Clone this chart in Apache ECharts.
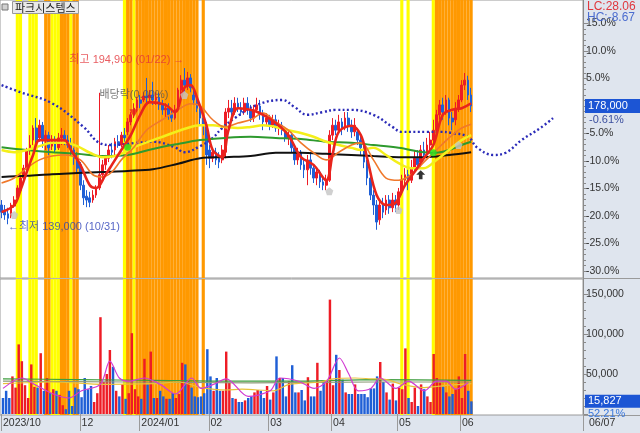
<!DOCTYPE html>
<html><head><meta charset="utf-8">
<script src="https://cdn.jsdelivr.net/npm/echarts/dist/echarts.min.js"></script>
<style>html,body{margin:0;padding:0;background:#fff}#c{width:640px;height:433px}</style>
</head><body><div id="c"></div>
<script>
// ---------- DATA ----------
const stockName = '파크시스템스';
const SLOTS = 185; // trading-day slots on the x axis (data + forward space)
const tickIndex = [0, 25, 44, 66, 85, 105, 126, 146];
const tickLabels = ['2023/10', '12', '2024/01', '02', '03', '04', '05', '06'];
const lastDateLabel = '06/07';

// candles: [open, close, low, high] in % relative to last price (178,000)
const candles = [
[-18.0,-19.3,-20.4,-17.1],[-18.9,-19.8,-20.7,-18.0],[-19.6,-20.4,-21.5,-18.5],[-20.0,-18.0,-20.4,-17.6],[-18.2,-17.1,-18.5,-16.4],[-16.7,-14.9,-17.1,-14.4],[-15.3,-13.1,-15.6,-12.5],[-13.1,-11.3,-13.8,-10.7],[-11.3,-8.0,-11.6,-7.6],[-8.0,-7.1,-8.9,-5.3],
[-6.2,-4.0,-7.1,-3.5],[-4.0,-6.2,-7.1,-2.2],[-5.8,-3.5,-6.5,-2.5],[-3.5,-6.2,-7.6,-2.9],[-6.2,-5.3,-8.0,-4.4],[-5.3,-7.6,-8.9,-4.7],[-7.3,-6.2,-8.0,-5.3],[-6.2,-8.0,-8.4,-5.5],[-7.6,-5.8,-8.0,-4.9],[-5.8,-5.3,-7.1,-4.0],
[-5.3,-6.2,-7.1,-4.4],[-6.2,-7.1,-7.6,-5.3],[-7.1,-8.0,-8.9,-5.8],[-8.0,-9.5,-10.7,-7.6],[-9.5,-11.3,-12.0,-8.4],[-10.7,-14.4,-15.3,-10.2],[-14.4,-16.7,-18.0,-13.5],[-16.4,-17.1,-18.4,-15.3],[-16.7,-17.5,-18.4,-15.6],[-17.1,-16.2,-17.6,-15.3],
[-16.2,-14.9,-16.7,-14.4],[-14.9,-12.5,-15.3,2.4],[-12.5,-10.7,-13.5,-9.8],[-10.7,-9.5,-11.6,-8.9],[-9.5,-8.0,-10.2,-7.1],[-8.0,-8.4,-9.5,-6.7],[-8.0,-6.5,-8.9,-5.8],[-6.5,-7.1,-7.6,-5.3],[-7.1,-5.3,-7.5,-4.7],[-5.3,-5.8,-6.5,-4.0],
[-4.7,-2.9,-5.3,-2.2],[-2.9,-1.6,-3.5,-1.1],[-1.6,-0.4,-2.2,0.5],[-0.4,1.1,-1.1,1.6],[1.1,0.5,-0.4,2.0],[1.1,1.8,0.7,2.5],[1.8,1.5,0.4,5.1],[1.5,2.0,0.7,2.9],[2.0,1.1,0.2,4.4],[1.1,1.6,0.2,2.5],
[1.6,0.2,-0.7,2.4],[0.2,-0.7,-1.6,1.1],[-0.7,-0.4,-2.2,0.5],[-0.4,-1.6,-2.5,0.5],[-1.6,-2.2,-2.9,-0.7],[-2.2,-0.7,-2.5,0.2],[-0.7,2.9,-1.1,3.3],[2.9,4.7,2.0,5.6],[4.7,3.8,2.5,6.9],[3.8,5.1,2.9,6.2],
[5.1,3.3,2.5,5.8],[2.0,1.1,0.2,2.9],[1.1,-0.4,-1.1,2.0],[-0.4,-2.2,-3.5,0.2],[-2.2,-3.5,-5.3,-1.6],[-3.5,-8.9,-10.7,-2.9],[-8.0,-9.5,-11.3,-7.1],[-9.5,-8.4,-10.2,-7.6],[-8.4,-9.8,-10.7,-7.6],[-9.5,-10.2,-11.3,-8.4],
[-9.8,-8.0,-10.4,-7.1],[-8.4,-1.1,-9.5,-0.4],[-1.1,-0.4,-2.2,1.1],[-0.4,-1.1,-2.2,1.1],[-1.1,0.5,-1.6,1.6],[0.5,-0.4,-1.1,1.5],[-0.4,-1.1,-1.8,0.7],[-1.1,0.5,-1.6,1.5],[0.5,-0.7,-1.6,1.6],[-0.7,-2.2,-2.9,0.2],
[-2.2,-0.7,-2.9,0.2],[-0.7,0.2,-1.1,1.5],[0.0,-1.6,-2.5,1.1],[-1.6,-2.9,-4.4,-0.7],[-2.9,-2.2,-3.6,-1.3],[-2.2,-3.5,-4.4,-1.6],[-3.5,-2.5,-4.0,-1.6],[-2.5,-4.0,-4.7,-1.6],[-4.0,-3.5,-5.3,-2.5],[-3.5,-4.4,-5.3,-2.9],
[-4.4,-5.8,-6.5,-3.8],[-5.8,-5.3,-7.1,-4.4],[-5.3,-7.6,-8.4,-4.7],[-7.6,-9.8,-10.7,-7.1],[-9.8,-8.4,-10.7,-7.6],[-8.4,-10.7,-11.6,-8.0],[-10.7,-11.6,-13.1,-9.8],[-11.6,-9.8,-14.4,-8.9],[-9.8,-11.3,-12.5,-8.4],[-11.3,-13.1,-14.0,-10.7],
[-13.1,-12.0,-14.4,-11.3],[-12.0,-13.8,-14.9,-11.6],[-13.8,-14.4,-15.3,-13.1],[-14.4,-13.5,-15.3,-12.5],[-13.5,-5.3,-13.8,-4.4],[-5.3,-3.5,-6.2,-2.2],[-3.5,-4.4,-5.3,-2.5],[-4.4,-2.9,-4.7,-1.6],[-2.9,-4.0,-5.3,-2.2],[-4.0,-2.2,-4.4,-1.1],
[-2.2,-3.5,-4.7,-1.1],[-3.5,-4.7,-5.8,-2.5],[-4.7,-3.5,-5.5,-2.2],[-4.7,-6.2,-7.1,-4.0],[-6.2,-7.6,-8.9,-5.3],[-7.6,-10.2,-11.3,-7.1],[-10.2,-13.1,-14.4,-9.8],[-13.1,-16.2,-17.1,-12.5],[-16.2,-18.0,-19.8,-15.3],[-18.0,-21.1,-22.5,-17.1],
[-20.7,-18.0,-21.6,-17.1],[-18.0,-19.3,-20.4,-16.7],[-18.9,-17.1,-19.8,-16.2],[-17.1,-18.5,-19.6,-16.2],[-18.5,-17.1,-19.3,-15.8],[-17.1,-18.0,-19.3,-16.2],[-18.0,-15.6,-18.9,-14.9],[-15.6,-13.5,-16.2,-12.5],[-13.5,-12.5,-14.4,-11.3],[-12.5,-13.8,-15.3,-11.6],
[-13.5,-11.3,-14.0,-9.8],[-11.3,-9.5,-12.0,-8.0],[-9.5,-10.7,-11.6,-8.0],[-10.2,-8.0,-11.3,-7.1],[-8.0,-8.9,-9.8,-6.5],[-8.4,-7.1,-9.5,-5.8],[-7.1,-6.2,-8.0,-4.7],[-6.2,-4.4,-7.1,-2.5],[-4.4,-1.6,-5.3,-0.7],[-1.6,0.2,-2.5,1.1],
[0.2,-1.1,-2.5,1.5],[-1.1,1.1,-1.6,2.0],[1.1,-2.2,-3.5,1.5],[-2.2,-2.9,-4.4,-1.1],[-2.5,-0.4,-3.5,0.7],[-0.4,1.1,-1.1,2.0],[1.1,3.8,0.7,4.7],[3.8,4.7,2.9,6.0],[4.7,2.0,1.1,5.5],[2.0,0.0,-1.1,3.3]
];

const volumes = [
20000,29000,20000,47000,33000,87000,66000,36000,20000,62000,
34000,33000,76000,29000,45000,26000,31000,29000,24000,11000,
6000,29000,10000,33000,31000,21000,45000,31000,35000,15000,
26000,121000,40000,50000,80000,59000,29000,22000,37000,19000,
26000,101000,31000,22000,19000,69000,37000,78000,20000,20000,
29000,22000,19000,19000,26000,20000,25000,64000,62000,41000,
33000,22000,21000,22000,26000,81000,47000,29000,45000,29000,
29000,78000,39000,20000,19000,15000,15000,17000,20000,22000,
27000,30000,29000,20000,35000,18000,27000,72000,45000,45000,
22000,41000,61000,27000,27000,30000,17000,46000,22000,22000,
64000,29000,41000,42000,143000,36000,74000,55000,43000,27000,
25000,25000,37000,25000,25000,25000,21000,32000,32000,47000,
65000,40000,27000,18000,38000,17000,33000,31000,82000,20000,
15000,33000,10000,37000,31000,22000,15000,75000,45000,39000,
34000,27000,22000,25000,31000,47000,20000,75000,29000,15827
];

// moving averages / indicator lines, read at sample days: [dayIndex, %]
const ma5 = [[0,-19.3],[4,-18.0],[6,-15.3],[8,-12.0],[10,-8.9],[12,-6.2],[16,-6.2],[20,-6.2],[22,-8.0],[25,-10.7],[28,-14.4],[30,-14.9],[33,-12.5],[35,-10.7],[38,-8.0],[41,-5.3],[44,-1.6],[47,0.7],[52,0.2],[55,-1.1],[58,3.3],[60,3.8],[62,1.5],[65,-3.5],[67,-8.0],[70,-9.3],[72,-4.4],[75,-0.4],[79,-0.7],[83,-1.6],[87,-3.1],[91,-5.3],[95,-9.3],[99,-10.7],[103,-13.5],[105,-8.9],[107,-4.7],[111,-3.6],[114,-5.3],[116,-9.5],[119,-16.2],[122,-18.0],[125,-17.6],[128,-14.4],[131,-12.0],[134,-9.5],[137,-7.1],[140,-1.6],[143,-0.7],[146,-0.4],[149,0.5]];
const ma10 = [[0,-14.0],[4,-13.1],[8,-11.3],[12,-9.8],[16,-9.1],[20,-8.9],[25,-9.8],[29,-12.5],[32,-12.9],[35,-12.0],[38,-9.8],[42,-7.5],[46,-4.4],[51,-2.5],[56,-0.7],[60,0.4],[63,0.0],[67,-2.5],[71,-3.8],[75,-3.1],[79,-2.5],[83,-1.3],[87,-2.9],[91,-4.4],[95,-6.7],[99,-8.5],[103,-9.8],[107,-8.4],[111,-7.1],[114,-6.7],[118,-9.8],[122,-13.1],[126,-13.5],[130,-12.5],[134,-10.2],[138,-8.0],[142,-5.8],[146,-4.0],[149,-3.3]];
const ma20 = [[0,-8.0],[4,-8.4],[8,-8.0],[12,-7.3],[16,-6.7],[20,-6.7],[24,-7.3],[28,-8.5],[32,-9.3],[36,-9.1],[42,-7.5],[50,-5.8],[59,-4.0],[63,-3.5],[67,-3.5],[71,-3.8],[75,-4.0],[79,-3.8],[83,-3.5],[87,-3.8],[91,-4.4],[95,-4.9],[99,-5.6],[103,-6.5],[107,-7.1],[111,-7.6],[114,-8.0],[118,-7.6],[122,-8.9],[126,-10.4],[130,-11.3],[134,-11.3],[138,-9.8],[142,-8.0],[146,-6.2],[149,-5.3]];
const ma60 = [[0,-7.5],[8,-8.0],[16,-8.4],[24,-8.7],[32,-9.1],[40,-8.9],[48,-7.8],[56,-6.9],[63,-6.2],[71,-5.8],[79,-5.6],[87,-5.8],[95,-6.0],[103,-6.5],[111,-6.7],[118,-7.1],[126,-7.6],[134,-8.4],[138,-8.5],[142,-8.0],[146,-7.1],[149,-6.5]];
const ma120 = [[0,-12.9],[8,-12.7],[16,-12.4],[24,-12.2],[32,-12.0],[40,-11.8],[48,-11.5],[56,-10.5],[63,-9.5],[71,-9.3],[79,-9.1],[87,-8.5],[95,-8.5],[103,-8.7],[111,-8.9],[118,-9.1],[126,-9.3],[134,-9.3],[142,-8.9],[149,-8.4]];
const leadSpan = [[0,3.8],[6,2.5],[16,0.5],[26,-3.8],[31,-6.7],[35,-7.1],[43,-6.7],[48,-6.5],[55,-7.5],[58,-8.4],[63,-7.3],[67,-5.8],[70,-4.0],[74,-2.2],[81,0.2],[89,1.1],[93,-0.2],[97,-1.6],[102,-1.1],[106,-0.7],[111,-0.7],[118,-1.6],[124,-3.8],[127,-4.7],[135,-4.7],[139,-4.7],[143,-4.9],[148,-5.6],[151,-7.6],[156,-8.9],[160,-8.5],[165,-6.2],[171,-4.0],[175,-2.2]];

// volume averages: [dayIndex, shares]
const volMa5 = [[0,32000],[6,45000],[10,37000],[16,25000],[21,20000],[25,29000],[31,37000],[34,66000],[37,45000],[40,41000],[45,45000],[50,37000],[55,25000],[60,45000],[63,32000],[67,37000],[71,44000],[78,22000],[85,29000],[88,45000],[94,41000],[99,32000],[103,41000],[107,70000],[110,50000],[113,29000],[117,32000],[120,45000],[125,32000],[129,41000],[134,29000],[138,41000],[141,41000],[144,31000],[148,39000]];
const volMa20 = [[0,38000],[16,40000],[32,37000],[48,38000],[56,40000],[63,33000],[71,30000],[76,31000],[86,29000],[91,37000],[101,40000],[105,44000],[112,45000],[117,44000],[122,43000],[127,37000],[134,33000],[142,36000],[149,38000]];
const volMa60 = [[0,44000],[24,43000],[48,42000],[71,41000],[95,41000],[118,43000],[149,42000]];
const volMa120 = [[0,41000],[40,40000],[79,39000],[118,40000],[149,40000]];

// signal bands (day index ranges)
const yellowDays = [[5,6],[9,11],[16,18],[22,22],[39,39],[42,42],[127,127],[129,129],[137,137]];
const orangeDays = [[14,15],[19,21],[23,24],[40,41],[43,62],[64,64],[138,149]];

// markers: [dayIndex, %]
const grayMarks = [[4,-19.8],[58,2.0],[104,-15.5],[126,-18.9],[145,-7.1]];
const greenMarks = [[40,-7.5],[137,-8.5]];
const blackArrows = [[133,-12.5]];
const exDivMark = [42,-1.3];
const highMark = [58, 6.9];
const lowMark = [2, -21.5];

const texts = {
  high: '최고 194,900 (01/22) →',
  low: '←최저 139,000 (10/31)',
  exDiv: '배당락(0.00%)',
  lastPrice: '178,000', lastChange: '-0.61%',
  lastVol: '15,827', volRatio: '52.21%',
  lc: 'LC:28.06', hc: 'HC:-8.67'
};

// ---------- CHART ----------
const FONT = "'Liberation Sans', 'Noto Sans CJK KR', sans-serif";
const RED = '#ee1c25', BLUE = '#1f5fd6';
const cats = Array.from({length: SLOTS}, (_, i) => String(i));
const tickSet = new Set(tickIndex);
const tickMap = {}; tickIndex.forEach((t, k) => tickMap[t] = tickLabels[k]);

function bandData(ranges) {
  const arr = new Array(SLOTS).fill('-');
  ranges.forEach(([a, b]) => { for (let i = a; i <= b; i++) arr[i] = 1; });
  return arr;
}
const volData = volumes.map((v, i) => ({
  value: v, itemStyle: {color: candles[i][1] >= candles[i][0] ? RED : BLUE}
}));

const chart = echarts.init(document.getElementById('c'));
const hiddenX = (g) => ({type: 'category', gridIndex: g, data: cats, boundaryGap: true, show: false});
const bandSeries = (xi, yi, ranges, color) => ({
  type: 'bar', xAxisIndex: xi, yAxisIndex: yi, data: bandData(ranges),
  barWidth: '100%', barGap: '-100%', itemStyle: {color}, silent: true, z: 1
});
const line = (data, color, width, extra) => Object.assign({
  type: 'line', xAxisIndex: 1, yAxisIndex: 1, data, showSymbol: false, smooth: 0.35,
  lineStyle: {color, width}, silent: true, z: 4
}, extra || {});
const vline = (data, color, width) => ({
  type: 'line', xAxisIndex: 3, yAxisIndex: 3, data, showSymbol: false, smooth: 0.3,
  lineStyle: {color, width}, silent: true, z: 4
});

const option = {
  animation: false,
  textStyle: {fontFamily: FONT},
  title: {
    text: stockName, left: 12, top: 1, padding: [1, 3],
    backgroundColor: '#e9e9e9', borderColor: '#9a9a9a', borderWidth: 1,
    textStyle: {fontSize: 11, fontWeight: 'normal', color: '#222', fontFamily: "'Noto Sans CJK KR'"}
  },
  grid: [
    {left: 0, right: 57, top: 0, height: 278, show: true, backgroundColor: '#fff', borderColor: '#9a9a9a', borderWidth: 1},
    {left: 0, right: 57, top: 23.5, height: 247.5},
    {left: 0, right: 57, top: 279, height: 136, show: true, backgroundColor: '#fff', borderColor: '#9a9a9a', borderWidth: 1},
    {left: 0, right: 57, top: 294, height: 120}
  ],
  xAxis: [hiddenX(0), hiddenX(1), hiddenX(2), {
    type: 'category', gridIndex: 3, data: cats, boundaryGap: true,
    axisLine: {show: false},
    axisTick: {show: true, interval: (i) => tickSet.has(i), length: 17, lineStyle: {color: '#9a9a9a'}},
    axisLabel: {interval: (i) => tickSet.has(i), formatter: (v, i) => tickMap[i] || '', align: 'left', margin: 4,
      color: '#333', fontSize: 10.5, hideOverlap: false}
  }],
  yAxis: [
    {gridIndex: 0, min: 0, max: 1, position: 'right', axisLine: {show: true, lineStyle: {color: '#8a8a8a'}},
      axisTick: {show: false}, axisLabel: {show: false}, splitLine: {show: false}},
    {gridIndex: 1, type: 'value', position: 'right', min: -30, max: 15, interval: 5,
      axisLine: {show: true, lineStyle: {color: '#8a8a8a'}},
      axisTick: {show: true, length: 5, lineStyle: {color: '#8a8a8a'}},
      minorTick: {show: true, splitNumber: 5, length: 3, lineStyle: {color: '#8a8a8a'}},
      axisLabel: {formatter: (v) => v.toFixed(1) + '%', color: '#333', fontSize: 10.5, margin: 3},
      splitLine: {show: false}},
    {gridIndex: 2, min: 0, max: 1, position: 'right', axisLine: {show: true, lineStyle: {color: '#8a8a8a'}},
      axisTick: {show: false}, axisLabel: {show: false}, splitLine: {show: false}},
    {gridIndex: 3, type: 'value', position: 'right', min: 0, max: 150000, interval: 50000,
      axisLine: {show: true, lineStyle: {color: '#8a8a8a'}},
      axisTick: {show: true, length: 5, lineStyle: {color: '#8a8a8a'}},
      minorTick: {show: true, splitNumber: 5, length: 3, lineStyle: {color: '#8a8a8a'}},
      axisLabel: {formatter: (v) => v === 0 ? '' : v.toLocaleString('en-US'), color: '#333', fontSize: 10.5, margin: 3},
      splitLine: {show: false}}
  ],
  graphic: [
    {type: 'rect', shape: {x: 583, y: 0, width: 57, height: 433}, style: {fill: '#dfe5ee'}, z: -10, silent: true},
    {type: 'rect', shape: {x: 0, y: 415, width: 583, height: 18}, style: {fill: '#dfe5ee'}, z: -10, silent: true},
    {type: 'line', shape: {x1: 583, y1: 278.5, x2: 640, y2: 278.5}, style: {stroke: '#9a9a9a', lineWidth: 1}, silent: true},
    {type: 'line', shape: {x1: 583, y1: 415.5, x2: 640, y2: 415.5}, style: {stroke: '#9a9a9a', lineWidth: 1}, silent: true},
    {type: 'rect', shape: {x: 2, y: 4, width: 6, height: 6}, style: {fill: '#d0d0d0', stroke: '#777', lineWidth: 1}, silent: true},
    {type: 'text', x: 587, y: 1, style: {text: texts.lc, fill: '#e0383e', font: "12px 'Liberation Sans'"}, silent: true, z: 10},
    {type: 'text', x: 587, y: 12, style: {text: texts.hc, fill: '#4b6ccf', font: "12px 'Liberation Sans'"}, silent: true, z: 10},
    {type: 'text', x: 589, y: 418, style: {text: lastDateLabel, fill: '#333', font: "10.5px 'Liberation Sans'"}, silent: true}
  ],
  series: [
    bandSeries(0, 0, yellowDays, '#ffff00'),
    bandSeries(0, 0, orangeDays, '#ff9900'),
    bandSeries(2, 2, yellowDays, '#ffff00'),
    bandSeries(2, 2, orangeDays, '#ff9900'),
    {
      type: 'candlestick', xAxisIndex: 1, yAxisIndex: 1, data: candles, barWidth: 2.2, z: 3, silent: true,
      itemStyle: {color: RED, color0: BLUE, borderColor: RED, borderColor0: BLUE, borderWidth: 1},
      markLine: {
        symbol: ['none', 'none'], silent: true, animation: false,
        lineStyle: {color: 'rgba(0,0,0,0)', width: 1},
        label: {show: true, position: 'end', distance: 2, opacity: 1,
          formatter: '{e|}\n{a|' + texts.lastPrice + '}\n{b|' + texts.lastChange + '}',
          rich: {
            e: {height: 13},
            a: {backgroundColor: '#1c55d4', color: '#fff', width: 52, height: 14, lineHeight: 14, padding: [0, 0, 0, 3], fontSize: 11},
            b: {color: '#3b4f9e', fontSize: 11, height: 13, lineHeight: 13, padding: [0, 0, 0, 4]}
          }},
        data: [{yAxis: candles[candles.length - 1][1]}]
      }
    },
    line(leadSpan, '#2b2bb8', 2.4, {lineStyle: {color: '#2b2bb8', width: 2.4, type: [2, 2.5]}, smooth: 0.4}),
    line(ma120, '#111', 2),
    line(ma60, '#2e9a2e', 2),
    line(ma20, '#f4ef1a', 2.5),
    line(ma10, '#f0782a', 1.6),
    line(ma5, '#e8241c', 2.6),
    {
      type: 'scatter', xAxisIndex: 1, yAxisIndex: 1, silent: true, z: 6,
      data: [
        ...grayMarks.map(p => ({value: p, symbol: 'path://M5,0 L10,4 L8,10 L2,10 L0,4 Z', symbolSize: 8, itemStyle: {color: '#c4c4c4'}})),
        ...greenMarks.map(p => ({value: p, symbol: 'circle', symbolSize: 7, itemStyle: {color: '#22e022'}})),
        ...blackArrows.map(p => ({value: p, symbol: 'path://M5,0 L10,5 L7,5 L7,10 L3,10 L3,5 L0,5 Z', symbolSize: 9, itemStyle: {color: '#000'}})),
        {value: exDivMark, symbol: 'triangle', symbolRotate: 180, symbolSize: [9, 8], itemStyle: {color: '#e8241c'},
          label: {show: true, position: 'top', distance: 9, formatter: texts.exDiv, color: '#555', fontSize: 11, fontFamily: FONT}},
        {value: highMark, symbolSize: 0, label: {show: true, position: 'left', distance: 0, offset: [0, -8], formatter: texts.high, color: '#e3343a', fontSize: 11, fontFamily: FONT}},
        {value: lowMark, symbolSize: 0, label: {show: true, position: 'right', distance: 0, offset: [0, 3], formatter: texts.low, color: '#2a3eb8', fontSize: 11, fontFamily: FONT}}
      ]
    },
    {
      type: 'bar', xAxisIndex: 3, yAxisIndex: 3, data: volData, barWidth: '78%', z: 3, silent: true,
      markLine: {
        symbol: ['none', 'none'], silent: true, animation: false,
        lineStyle: {color: 'rgba(0,0,0,0)', width: 1},
        label: {show: true, position: 'end', distance: 2, opacity: 1,
          formatter: '{e|}\n{a|' + texts.lastVol + '}\n{b|' + texts.volRatio + '}',
          rich: {
            e: {height: 12},
            a: {backgroundColor: '#1c55d4', color: '#fff', width: 52, height: 13, lineHeight: 13, padding: [0, 0, 0, 3], fontSize: 11},
            b: {color: '#3a78dc', fontSize: 11, height: 12, lineHeight: 12, padding: [0, 0, 0, 3]}
          }},
        data: [{yAxis: volumes[volumes.length - 1]}]
      }
    },
    vline(volMa120, '#8c9a78', 1.2),
    vline(volMa60, '#3c9c3c', 1.2),
    vline(volMa20, '#e8c23a', 1.2),
    vline(volMa5, '#d23ad2', 1.2)
  ]
};
chart.setOption(option);
</script>
</body></html>
